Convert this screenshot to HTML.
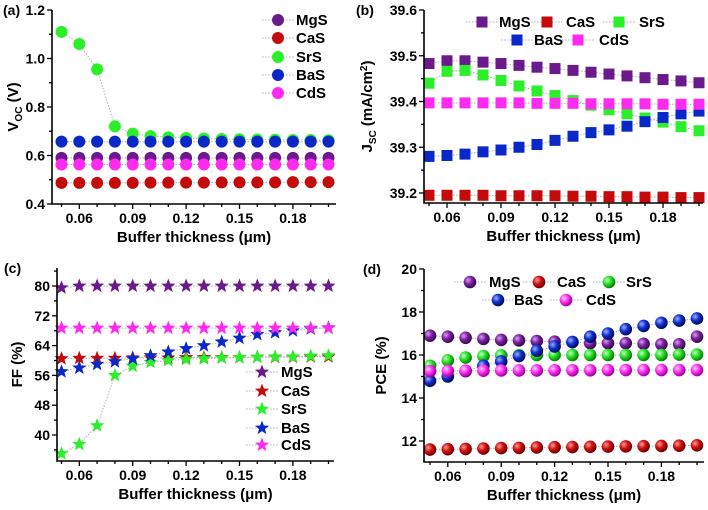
<!DOCTYPE html>
<html><head><meta charset="utf-8"><style>
body{margin:0;background:#fff}
svg{display:block;font-family:"Liberation Sans",sans-serif;font-weight:bold}
</style></head><body>
<svg id="s" width="708" height="510" viewBox="0 0 708 510">
<defs>
<radialGradient id="gMgS" cx="35%" cy="35%" r="65%"><stop offset="0" stop-color="#d9a0f0"/><stop offset="0.5" stop-color="#7a1fa0"/><stop offset="1" stop-color="#3a0a50"/></radialGradient>
<radialGradient id="gCaS" cx="35%" cy="35%" r="65%"><stop offset="0" stop-color="#ff9a9a"/><stop offset="0.5" stop-color="#d01010"/><stop offset="1" stop-color="#700000"/></radialGradient>
<radialGradient id="gSrS" cx="35%" cy="35%" r="65%"><stop offset="0" stop-color="#c8ffc8"/><stop offset="0.5" stop-color="#22e022"/><stop offset="1" stop-color="#0a800a"/></radialGradient>
<radialGradient id="gBaS" cx="35%" cy="35%" r="65%"><stop offset="0" stop-color="#a0b0ff"/><stop offset="0.5" stop-color="#1030d0"/><stop offset="1" stop-color="#000a60"/></radialGradient>
<radialGradient id="gCdS" cx="35%" cy="35%" r="65%"><stop offset="0" stop-color="#ffd0ff"/><stop offset="0.5" stop-color="#ff30f0"/><stop offset="1" stop-color="#a000a0"/></radialGradient>
</defs>
</svg>
<script>
const xs=[0.05,0.06,0.07,0.08,0.09,0.10,0.11,0.12,0.13,0.14,0.15,0.16,0.17,0.18,0.19,0.20];
const xTicks=["0.06","0.09","0.12","0.15","0.18"];
const names=["MgS","CaS","SrS","BaS","CdS"];
const colors=["#6a1a8a","#c40a0a","#2af02a","#0a28c8","#ff2af0"];
// (a) Voc
const vocMgS=[0.59,0.59,0.59,0.59,0.59,0.59,0.59,0.59,0.59,0.59,0.59,0.59,0.59,0.59,0.59,0.59];
const vocCaS=[0.487,0.487,0.487,0.487,0.487,0.488,0.488,0.488,0.488,0.489,0.489,0.489,0.489,0.49,0.49,0.49];
const vocSrS=[1.11,1.06,0.955,0.72,0.69,0.68,0.675,0.672,0.67,0.668,0.667,0.666,0.665,0.664,0.664,0.663];
const vocBaS=[0.657,0.657,0.657,0.657,0.657,0.657,0.657,0.657,0.657,0.657,0.657,0.657,0.657,0.657,0.657,0.657];
const vocCdS=[0.563,0.563,0.563,0.563,0.563,0.563,0.563,0.563,0.563,0.563,0.563,0.563,0.563,0.563,0.563,0.563];
const vocTicks=[0.4,0.6,0.8,1.0,1.2];
// (b) Jsc
const jscMgS=[39.483,39.489,39.489,39.486,39.483,39.479,39.475,39.472,39.468,39.464,39.46,39.456,39.452,39.448,39.445,39.441];
const jscCaS=[39.195,39.195,39.195,39.195,39.194,39.194,39.194,39.194,39.193,39.193,39.192,39.192,39.191,39.191,39.19,39.19];
const jscSrS=[39.44,39.466,39.468,39.458,39.446,39.434,39.423,39.413,39.402,39.392,39.382,39.373,39.364,39.355,39.345,39.336];
const jscBaS=[39.28,39.282,39.285,39.29,39.294,39.3,39.306,39.315,39.324,39.332,39.338,39.346,39.356,39.365,39.373,39.379];
const jscCdS=[39.397,39.397,39.397,39.397,39.397,39.397,39.396,39.396,39.396,39.395,39.395,39.395,39.395,39.394,39.394,39.394];
const jscTicks=[39.2,39.3,39.4,39.5,39.6];
// (c) FF
const ffMgS=[79.5,80,80,80,80,80,80,80,80,80,80,80,80,80,80,80];
const ffCaS=[60.5,60.6,60.6,60.6,60.7,60.7,60.7,60.8,60.8,60.8,60.8,60.9,60.9,60.9,61,61];
const ffSrS=[35,37.5,42.5,56,58.5,59.5,60,60.3,60.5,60.7,60.8,60.9,61,61,61.2,61.3];
const ffBaS=[57,58,59,59.7,60.5,61.3,62.3,63.2,64,65,66,67,67.5,68,68.5,68.8];
const ffCdS=[68.7,68.7,68.7,68.7,68.7,68.7,68.7,68.7,68.7,68.7,68.7,68.7,68.7,68.7,68.7,68.7];
const ffTicks=[40,48,56,64,72,80];
// (d) PCE
const pceMgS=[16.9,16.85,16.8,16.75,16.7,16.68,16.65,16.62,16.6,16.55,16.55,16.55,16.52,16.5,16.5,16.85];
const pceCaS=[11.6,11.62,11.63,11.65,11.67,11.68,11.7,11.71,11.72,11.73,11.74,11.75,11.76,11.77,11.78,11.8];
const pceSrS=[15.5,15.75,15.88,15.95,15.98,16,16,16,16,16,16,16,16,16,16.02,16.02];
const pceBaS=[14.8,15.0,15.25,15.5,15.7,15.95,16.2,16.4,16.6,16.85,17.0,17.2,17.35,17.5,17.6,17.7];
const pceCdS=[15.25,15.26,15.27,15.27,15.28,15.28,15.28,15.29,15.29,15.29,15.3,15.3,15.3,15.3,15.3,15.3];
const pceTicks=[12,14,16,18,20];

const NS="http://www.w3.org/2000/svg";
const svg=document.getElementById('s');
function mk(tag,at,parent,txt){const e=document.createElementNS(NS,tag);for(const k in at)e.setAttribute(k,at[k]);if(txt!==undefined)e.textContent=txt;(parent||svg).appendChild(e);return e;}
function starPts(cx,cy,R){let p=[];for(let i=0;i<10;i++){const r=i%2?R*0.42:R;const a=-Math.PI/2+i*Math.PI/5;p.push((cx+r*Math.cos(a)).toFixed(1)+','+(cy+r*Math.sin(a)).toFixed(1));}return p.join(' ');}
function marker(g,type,i,cx,cy){
  let e;
  if(type==='circle'){e=mk('circle',{cx,cy,r:6,fill:colors[i]},g);}
  else if(type==='square'){e=mk('rect',{x:cx-5.5,y:cy-5.5,width:11,height:11,fill:colors[i]},g);}
  else if(type==='star'){e=mk('polygon',{points:starPts(cx,cy,7.5),fill:colors[i]},g);}
  else {e=mk('circle',{cx,cy,r:6.3,fill:'url(#g'+names[i]+')'},g);}
  return e;
}
function panel(o){
  const g=mk('g',{});
  
  
  const X=v=>o.px0+(v-0.05)/0.15*(o.px1-o.px0);
  const Y=v=>o.py0+(v-o.v0)/(o.v1-o.v0)*(o.py1-o.py0);
  o.series.forEach((d,i)=>{
    const sg=mk('g',{},g);
    
    
    const pl=mk('polyline',{points:d.map((v,j)=>X(xs[j]).toFixed(1)+','+Y(v).toFixed(1)).join(' '),fill:'none',stroke:'#b0b0b0','stroke-width':1,'stroke-dasharray':'1.5 1.5'},sg);
    
    
    d.forEach((v,j)=>{const m=marker(sg,o.type,i,X(xs[j]),Y(v));
      
      });
  });
  const ax=mk('path',{d:`M${o.L} ${o.T}V${o.B}H${o.R}`,fill:'none',stroke:'#000','stroke-width':1.6},g);
  
  
  for(let v=0.05;v<=0.2001;v+=0.01){
    const major=xTicks.includes(v.toFixed(2));
    mk('line',{x1:X(v),x2:X(v),y1:o.B,y2:o.B+(major?5:3),stroke:'#000','stroke-width':1.3},g);
  }
  xTicks.forEach(t=>{const e=mk('text',{x:X(+t),y:o.B+19,'text-anchor':'middle','font-size':14},g,t);
    
    });
  const step=o.ticks[1]-o.ticks[0];
  o.ticks.forEach((t,k)=>{
    mk('line',{x1:o.L-5,x2:o.L,y1:Y(t),y2:Y(t),stroke:'#000','stroke-width':1.3},g);
    const mv=t-step/2; if(Y(mv)<=o.B && Y(mv)>=o.T) mk('line',{x1:o.L-3,x2:o.L,y1:Y(mv),y2:Y(mv),stroke:'#000','stroke-width':1.3},g);
    if(k===o.ticks.length-1){const mv2=t+step/2;if(Y(mv2)>=o.T)mk('line',{x1:o.L-3,x2:o.L,y1:Y(mv2),y2:Y(mv2),stroke:'#000','stroke-width':1.3},g);}
    const e=mk('text',{x:o.L-7,y:Y(t)+5,'text-anchor':'end','font-size':14},g,o.fmt(t));
    
    
  });
  const xt=mk('text',{x:(o.L+o.R)/2,y:o.B+38,'text-anchor':'middle','font-size':15},g,'Buffer thickness (μm)');
  
  
  const yt=mk('text',{x:0,y:0,'text-anchor':'middle','font-size':15,transform:`translate(${o.ytx},${(o.T+o.B)/2}) rotate(-90)`},g);
  yt.innerHTML=o.ytitle;
  
  
  const pl=mk('text',{x:o.labx,y:o.laby,'font-size':14},g,o.label);
  
  
  o.legend.forEach((l,i)=>{
    const lg=mk('g',{},g);
    
    
    mk('line',{x1:l[0]-16,x2:l[0]+16,y1:l[1],y2:l[1],stroke:'#b0b0b0','stroke-width':1,'stroke-dasharray':'1.5 1.5'},lg);
    marker(lg,o.type,i,l[0],l[1]);
    mk('text',{x:l[2],y:l[1]+5,'font-size':15},lg,names[i]);
  });
}
panel({id:'panel-a-voc',type:'circle',series:[vocMgS,vocCaS,vocSrS,vocBaS,vocCdS],ticks:vocTicks,fmt:t=>t.toFixed(1),
  px0:61.5,px1:328.5,v0:0.4,v1:1.2,py0:204,py1:10,L:52,R:336,T:10,B:204,ytx:18,ytitle:'V<tspan font-size="10" dy="4">OC</tspan><tspan dy="-4"> (V)</tspan>',
  label:'(a)',labx:3,laby:15,legend:[[278,20,296],[278,38,296],[278,57,296],[278,75,296],[278,93,296]]});
panel({id:'panel-b-jsc',type:'square',series:[jscMgS,jscCaS,jscSrS,jscBaS,jscCdS],ticks:jscTicks,fmt:t=>t.toFixed(1),
  px0:429,px1:699,v0:39.2,v1:39.6,py0:193,py1:10,L:424,R:703,T:10,B:203,ytx:372,ytitle:'J<tspan font-size="10" dy="4">SC</tspan><tspan dy="-4"> (mA/cm</tspan><tspan font-size="10" dy="-5">2</tspan><tspan dy="5">)</tspan>',
  label:'(b)',labx:356,laby:15,legend:[[482,22,499],[547,22,566],[619,22,639],[517,40,534],[578,40,599]]});
panel({id:'panel-c-ff',type:'star',series:[ffMgS,ffCaS,ffSrS,ffBaS,ffCdS],ticks:ffTicks,fmt:t=>String(t),
  px0:61.5,px1:328.5,v0:40,v1:80,py0:435,py1:286,L:57,R:334,T:268,B:461,ytx:22,ytitle:'FF (%)',
  label:'(c)',labx:4,laby:273,legend:[[262,372,281],[262,391,281],[262,409,281],[262,428,281],[262,445,281]]});
panel({id:'panel-d-pce',type:'sphere',series:[pceMgS,pceCaS,pceSrS,pceBaS,pceCdS],ticks:pceTicks,fmt:t=>String(t),
  px0:430,px1:697,v0:12,v1:20,py0:441,py1:269,L:424,R:704,T:269,B:462,ytx:386,ytitle:'PCE (%)',
  label:'(d)',labx:363,laby:274,legend:[[470,282,489],[539,282,557],[609,282,626],[498,300,514],[566,300,586]]});
</script>
</body></html>
